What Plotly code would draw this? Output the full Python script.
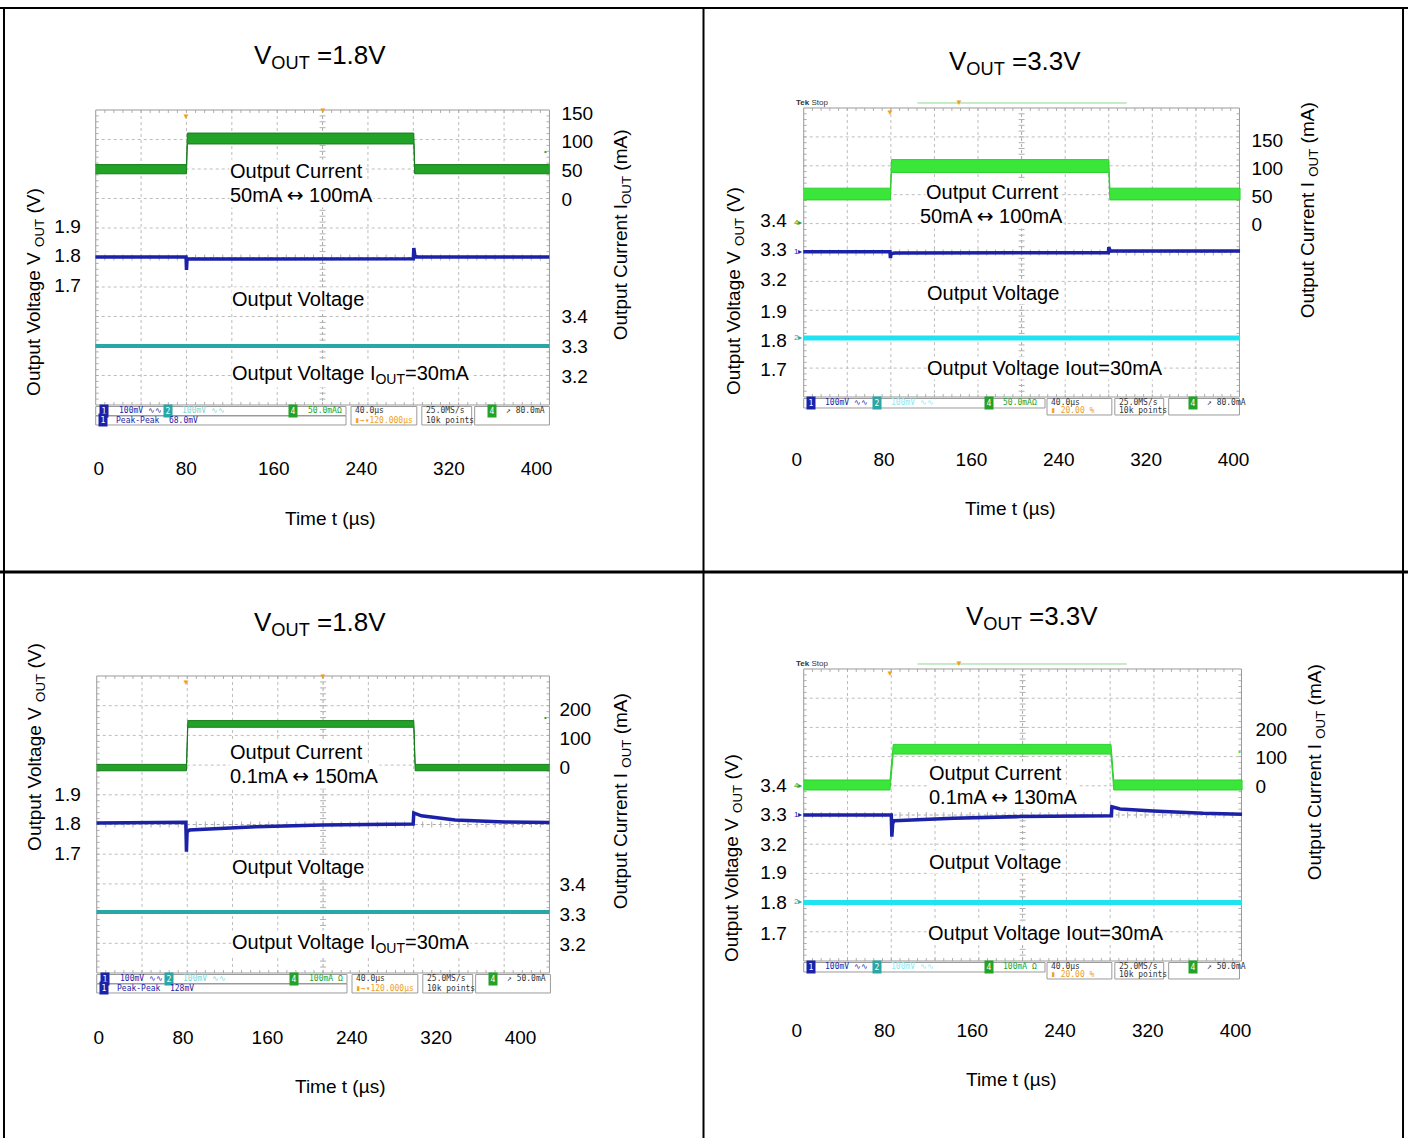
import plotly.graph_objects as go

W, H = 1412, 1138
# The photograph maps page row y to picture row 7 + 0.99385*y; rows are
# pre-compensated so that every element lands on its reference pixel row.
YOFF = 7
YSCALE = 0.99385
FONT = "Liberation Sans, Arial, Helvetica, sans-serif"
MONO = "DejaVu Sans Mono, monospace"
ARROW = '<span style="font-family:DejaVu Sans">\u2194</span>'

# ------------------------------------------------------------------ data
TIME_TICKS = [0, 80, 160, 240, 320, 400]
TIME_TEXT = ["0", "80", "160", "240", "320", "400"]
V18_TICKS = [1.9, 1.8, 1.7]
V18_TEXT = ["1.9", "1.8", "1.7"]
V33_TICKS = [3.4, 3.3, 3.2]
V33_TEXT = ["3.4", "3.3", "3.2"]
I_TICKS_A = [150, 100, 50, 0]
I_TEXT_A = ["150", "100", "50", "0"]
I_TICKS_B = [200, 100, 0]
I_TEXT_B = ["200", "100", "0"]

# Panel A: VOUT = 1.8 V, 50 mA <-> 100 mA (time in us, current in mA, voltage in V)
A_CUR_T = [-3, 80.2, 81.0, 287.9, 288.7, 412]
A_CUR_HI = [60, 60, 115, 115, 60, 60]
A_CUR_LO = [44, 44, 96, 96, 44, 44]
A_VB_T = [-3, 79.8, 80.2, 80.7, 83, 287.5, 287.9, 289, 292, 412]
A_VB_V = [1.795, 1.795, 1.751, 1.788, 1.788, 1.789, 1.825, 1.797, 1.795, 1.795]
A_VC_T = [-3, 412]
A_VC_V = [3.300, 3.300]

# Panel B: VOUT = 3.3 V, 50 mA <-> 100 mA
B_CUR_T = [6, 85.8, 86.8, 285.8, 286.8, 406]
B_CUR_HI = [64, 64, 115, 115, 64, 64]
B_CUR_LO = [43, 43, 92, 92, 43, 43]
B_VB_T = [6, 85.4, 85.8, 86.5, 90, 285.4, 285.8, 287, 406]
B_VB_V = [3.292, 3.292, 3.271, 3.286, 3.288, 3.289, 3.308, 3.296, 3.295]
B_VC_T = [6, 406]
B_VC_V = [1.807, 1.807]

# Panel C: VOUT = 1.8 V, 0.1 mA <-> 150 mA
C_CUR_T = [-2, 83.2, 84.5, 298.8, 300.1, 428]
C_CUR_HI = [9, 9, 160, 160, 9, 9]
C_CUR_LO = [-13, -13, 137, 137, -13, -13]
C_VB_T = [-2, 82.6, 83.2, 83.8, 86, 149, 212, 298.2, 298.8, 306, 338, 385, 428]
C_VB_V = [1.802, 1.804, 1.704, 1.772, 1.778, 1.789, 1.795, 1.798, 1.836, 1.826, 1.812, 1.805, 1.803]
C_VC_T = [-2, 428]
C_VC_V = [3.307, 3.307]

# Panel D: VOUT = 3.3 V, 0.1 mA <-> 130 mA
D_CUR_T = [6, 85.0, 88.0, 286.5, 289.0, 406]
D_CUR_HI = [21, 21, 146, 146, 21, 21]
D_CUR_LO = [-14, -14, 112, 112, -14, -14]
D_VB_T = [6, 86.2, 86.7, 87.5, 88.8, 143, 204, 286.9, 287.3, 294.8, 325, 370.6, 406]
D_VB_V = [3.298, 3.298, 3.225, 3.270, 3.279, 3.287, 3.293, 3.296, 3.326, 3.319, 3.312, 3.304, 3.301]
D_VC_T = [6, 406]
D_VC_V = [1.800, 1.800]

# ------------------------------------------------------------------ styles
BLUE = "#1c22a8"
GREEN_L = "#22a226"
GREEN_L_EDGE = "#187c1c"
GREEN_R = "#3ae63a"
GREEN_R_EDGE = "#2fcf2f"
CYAN_L = "#29a6a6"
CYAN_R = "#1fe3f0"
ORANGE = "#f0a020"
GRID = "#bdbdbd"

PANELS = [
    dict(screen=(96, 110, 551, 405), xcal=(99, 538), xpos=455, style="A",
         axes=[dict(key="blue", side="left", pos=81, cal=((1.9, 226), (1.7, 285)), ticks=V18_TICKS, text=V18_TEXT),
               dict(key="cur", side="right", pos=562, cal=((150, 113), (0, 199)), ticks=I_TICKS_A, text=I_TEXT_A),
               dict(key="cyan", side="right", pos=562, cal=((3.4, 316), (3.2, 376)), ticks=V33_TICKS, text=V33_TEXT)],
         cur=(A_CUR_T, A_CUR_HI, A_CUR_LO), blue=(A_VB_T, A_VB_V), cyan=(A_VC_T, A_VC_V),
         green=GREEN_L, gedge=GREEN_L_EDGE, cyanc=CYAN_L, cyanw=4,
         title=("V<sub>OUT</sub> =1.8V", 321, 57),
         labels=[("Output Current", 230, 171), ("50mA " + ARROW + " 100mA", 230, 195),
                 ("Output Voltage", 232, 299), ("Output Voltage I<sub>OUT</sub>=30mA", 232, 375)],
         ytl=("Output Voltage V <sub>OUT</sub> (V)", 35, 292),
         ytr=("Output Current I<sub>OUT</sub> (mA)", 624, 235),
         xt=("Time t (\u00b5s)", 331, 519),
         st_ch4="50.0mA\u03a9", st_pp="68.0mV", st_trig="80.0mA"),
    dict(screen=(806, 108, 1243, 397), xcal=(799, 1237), xpos=446, style="B",
         axes=[dict(key="blue", side="left", pos=789, cal=((3.4, 220), (3.2, 279)), ticks=V33_TICKS, text=V33_TEXT),
               dict(key="cyan", side="left", pos=789, cal=((1.9, 311), (1.7, 369)), ticks=V18_TICKS, text=V18_TEXT),
               dict(key="cur", side="right", pos=1254, cal=((150, 140), (0, 224)), ticks=I_TICKS_A, text=I_TEXT_A)],
         cur=(B_CUR_T, B_CUR_HI, B_CUR_LO), blue=(B_VB_T, B_VB_V), cyan=(B_VC_T, B_VC_V),
         green=GREEN_R, gedge=GREEN_R_EDGE, cyanc=CYAN_R, cyanw=5,
         title=("V<sub>OUT</sub> =3.3V", 1018, 63),
         labels=[("Output Current", 928, 192), ("50mA " + ARROW + " 100mA", 922, 216),
                 ("Output Voltage", 929, 293), ("Output Voltage Iout=30mA", 929, 368)],
         ytl=("Output Voltage V <sub>OUT</sub> (V)", 737, 291),
         ytr=("Output Current I <sub>OUT</sub> (mA)", 1313, 210),
         xt=("Time t (\u00b5s)", 1013, 509),
         st_ch4="50.0mA\u03a9", st_pp="", st_trig="80.0mA"),
    dict(screen=(97, 676, 551, 973), xcal=(99, 522), xpos=1024, style="A",
         axes=[dict(key="blue", side="left", pos=81, cal=((1.9, 794), (1.7, 853)), ticks=V18_TICKS, text=V18_TEXT),
               dict(key="cur", side="right", pos=560, cal=((200, 709), (0, 767)), ticks=I_TICKS_B, text=I_TEXT_B),
               dict(key="cyan", side="right", pos=560, cal=((3.4, 884), (3.2, 944)), ticks=V33_TICKS, text=V33_TEXT)],
         cur=(C_CUR_T, C_CUR_HI, C_CUR_LO), blue=(C_VB_T, C_VB_V), cyan=(C_VC_T, C_VC_V),
         green=GREEN_L, gedge=GREEN_L_EDGE, cyanc=CYAN_L, cyanw=4,
         title=("V<sub>OUT</sub> =1.8V", 321, 624),
         labels=[("Output Current", 230, 752), ("0.1mA " + ARROW + " 150mA", 230, 776),
                 ("Output Voltage", 232, 867), ("Output Voltage I<sub>OUT</sub>=30mA", 232, 944)],
         ytl=("Output Voltage V <sub>OUT</sub> (V)", 36, 747),
         ytr=("Output Current I <sub>OUT</sub> (mA)", 624, 801),
         xt=("Time t (\u00b5s)", 341, 1087),
         st_ch4="100mA \u03a9", st_pp="128mV", st_trig="50.0mA"),
    dict(screen=(806, 669, 1245, 961), xcal=(799, 1239), xpos=1017, style="B",
         axes=[dict(key="blue", side="left", pos=789, cal=((3.4, 785), (3.2, 844)), ticks=V33_TICKS, text=V33_TEXT),
               dict(key="cyan", side="left", pos=789, cal=((1.9, 872), (1.7, 933)), ticks=V18_TICKS, text=V18_TEXT),
               dict(key="cur", side="right", pos=1258, cal=((200, 729), (0, 786)), ticks=I_TICKS_B, text=I_TEXT_B)],
         cur=(D_CUR_T, D_CUR_HI, D_CUR_LO), blue=(D_VB_T, D_VB_V), cyan=(D_VC_T, D_VC_V),
         green=GREEN_R, gedge=GREEN_R_EDGE, cyanc=CYAN_R, cyanw=5,
         title=("V<sub>OUT</sub> =3.3V", 1035, 618),
         labels=[("Output Current", 931, 773), ("0.1mA " + ARROW + " 130mA", 931, 797),
                 ("Output Voltage", 931, 862), ("Output Voltage Iout=30mA", 930, 933)],
         ytl=("Output Voltage V <sub>OUT</sub> (V)", 735, 858),
         ytr=("Output Current I <sub>OUT</sub> (mA)", 1320, 772),
         xt=("Time t (\u00b5s)", 1014, 1080),
         st_ch4="100mA \u03a9", st_pp="", st_trig="50.0mA"),
]


def X(p):
    return p / W


def Y(p):
    return 1 - ((p - YOFF) / YSCALE) / H


def val_at(cal, p):
    (v0, p0), (v1, p1) = cal
    s = (p1 - p0) / (v1 - v0)
    return v0 + (p - p0) / s


fig = go.Figure()
layout = {}
shapes = []
ann = []


def text(x, y, s, size=20, xanchor="left", color="black", angle=0, bg=None, family=FONT,
         yanchor="middle", pad=0):
    d = dict(x=X(x), y=Y(y), xref="paper", yref="paper", text=s, showarrow=False,
             xanchor=xanchor, yanchor=yanchor, textangle=angle,
             font=dict(family=family, size=size, color=color), borderpad=pad)
    if bg:
        d["bgcolor"] = bg
    ann.append(d)


def seg_path(segs):
    return "".join(f"M{X(a):.5f},{Y(b):.5f}L{X(c):.5f},{Y(d):.5f}" for a, b, c, d in segs)


def status_bar(P):
    sx0, sy0, sx1, sy1 = P["screen"]
    b = sy1
    g = GREEN_L
    fs = 8
    if P["style"] == "A":
        boxes = [(0, 1.5, 251, 10.5), (0, 11, 251, 20), (256, 1.5, 322, 20), (327, 1.5, 377, 20), (380, 1.5, 455, 20)]
        r1, r2 = 6, 15.5
        items = [(3, r1, "1", "pill", BLUE), (22, r1, "100mV \u223f\u223f", "t", BLUE),
                 (67, r1, "2", "pill", CYAN_L), (86, r1, "100mV \u223f\u223f", "t", "#7fd6d6"),
                 (193, r1, "4", "pill", g), (212, r1, P["st_ch4"], "t", g),
                 (2, r2, "1", "pill", BLUE), (19, r2, "Peak-Peak  " + P["st_pp"], "t", BLUE),
                 (259, r1, "40.0\u00b5s", "t", "#333333"), (259, r2, "\u25ae\u2192\u25be120.000\u00b5s", "t", ORANGE),
                 (330, r1, "25.0MS/s", "t", "#333333"), (330, r2, "10k points", "t", "#333333"),
                 (392, r1, "4", "pill", g), (410, r1, "\u2197 " + P["st_trig"], "t", "#333333")]
    else:
        boxes = [(0, 1.5, 242, 11), (244, 1.5, 309, 18), (312, 1.5, 361, 18), (366, 1.5, 437, 18)]
        r1, r2 = 6, 14
        items = [(2, r1, "1", "pill", BLUE), (20, r1, "100mV \u223f\u223f", "t", BLUE),
                 (68, r1, "2", "pill", CYAN_L), (87, r1, "100mV \u223f\u223f", "t", "#8fe8f0"),
                 (181, r1, "4", "pill", g), (199, r1, P["st_ch4"], "t", g),
                 (247, r1, "40.0\u00b5s", "t", "#333333"), (247, r2, "\u25ae 20.00 %", "t", ORANGE),
                 (315, r1, "25.0MS/s", "t", "#333333"), (315, r2, "10k points", "t", "#333333"),
                 (385, r1, "4", "pill", g), (403, r1, "\u2197 " + P["st_trig"], "t", "#333333")]
    for (a, c, d, e) in boxes:
        shapes.append(dict(type="rect", xref="paper", yref="paper", x0=X(sx0 + a), x1=X(sx0 + d),
                           y0=Y(b + e), y1=Y(b + c), line=dict(color="#9a9a9a", width=1)))
    for (dx, dy, s, kind, col) in items:
        if kind == "pill":
            text(sx0 + dx, b + dy, s, size=fs, color="white", bg=col, family=MONO, pad=1.5)
        else:
            text(sx0 + dx, b + dy, s, size=fs, color=col, family=MONO)


for k, P in enumerate(PANELS):
    sx0, sy0, sx1, sy1 = P["screen"]
    xn = k + 1
    xname = "xaxis" if xn == 1 else f"xaxis{xn}"
    xref = "x" if xn == 1 else f"x{xn}"
    xcal = ((0, P["xcal"][0]), (400, P["xcal"][1]))
    dx0 = min(sx0, P["xcal"][0] - 12)
    dx1 = max(sx1, P["xcal"][1] + 12)
    layout[xname] = dict(domain=[X(dx0), X(dx1)], range=[val_at(xcal, dx0), val_at(xcal, dx1)],
                         anchor="free", position=Y(P["xpos"]), tickmode="array",
                         tickvals=TIME_TICKS, ticktext=TIME_TEXT, showgrid=False, zeroline=False,
                         showline=False, ticks="", fixedrange=True,
                         tickfont=dict(family=FONT, size=19, color="black"))
    base = None
    refs = {}
    for j, ax in enumerate(P["axes"]):
        yn = 3 * k + j + 1
        yname = "yaxis" if yn == 1 else f"yaxis{yn}"
        yref = "y" if yn == 1 else f"y{yn}"
        d = dict(range=[val_at(ax["cal"], sy1), val_at(ax["cal"], sy0)], anchor="free",
                 position=X(ax["pos"]), side=ax["side"], tickmode="array", tickvals=ax["ticks"],
                 ticktext=ax["text"], showgrid=False, zeroline=False, showline=False, ticks="",
                 fixedrange=True, tickfont=dict(family=FONT, size=19, color="black"))
        if base is None:
            d["domain"] = [Y(sy1), Y(sy0)]
            base = yref
        else:
            d["overlaying"] = base
        layout[yname] = d
        refs[ax["key"]] = yref

    # traces
    T, HI, LO = P["cur"]
    fig.add_trace(go.Scatter(x=list(T) + list(T)[::-1], y=list(HI) + list(LO)[::-1], mode="lines",
                             fill="toself", fillcolor=P["green"], line=dict(color=P["gedge"], width=1),
                             xaxis=xref, yaxis=refs["cur"], showlegend=False, hoverinfo="skip"))
    fig.add_trace(go.Scatter(x=P["cyan"][0], y=P["cyan"][1], mode="lines",
                             line=dict(color=P["cyanc"], width=P["cyanw"]),
                             xaxis=xref, yaxis=refs["cyan"], showlegend=False, hoverinfo="skip"))
    fig.add_trace(go.Scatter(x=P["blue"][0], y=P["blue"][1], mode="lines",
                             line=dict(color=BLUE, width=3.5),
                             xaxis=xref, yaxis=refs["blue"], showlegend=False, hoverinfo="skip"))

    # graticule (10 x 10 divisions)
    gx = (sx1 - sx0) / 10
    gy = (sy1 - sy0) / 10
    cx = (sx0 + sx1) / 2
    cy = (sy0 + sy1) / 2
    gsegs = []
    for i in range(1, 10):
        if i != 5:
            gsegs.append((sx0 + i * gx, sy0, sx0 + i * gx, sy1))
            gsegs.append((sx0, sy0 + i * gy, sx1, sy0 + i * gy))
    shapes.append(dict(type="path", xref="paper", yref="paper", path=seg_path(gsegs),
                       line=dict(color=GRID, width=1, dash="dot"), layer="below"))
    csegs = [(cx, sy0, cx, sy1), (sx0, cy, sx1, cy)]
    shapes.append(dict(type="path", xref="paper", yref="paper", path=seg_path(csegs),
                       line=dict(color="#a8a8a8", width=1, dash="dot"), layer="below"))
    tsegs = []
    for i in range(1, 50):
        yy = sy0 + i * gy / 5
        xx = sx0 + i * gx / 5
        tsegs.append((cx - 3, yy, cx + 3, yy))
        tsegs.append((xx, cy - 3, xx, cy + 3))
        tsegs.append((xx, sy0, xx, sy0 + 3))
        tsegs.append((xx, sy1 - 3, xx, sy1))
        tsegs.append((sx0, yy, sx0 + 3, yy))
        tsegs.append((sx1 - 3, yy, sx1, yy))
    shapes.append(dict(type="path", xref="paper", yref="paper", path=seg_path(tsegs),
                       line=dict(color="#b0b0b0", width=1), layer="below"))
    shapes.append(dict(type="rect", xref="paper", yref="paper", x0=X(sx0), x1=X(sx1), y0=Y(sy1), y1=Y(sy0),
                       line=dict(color="#9a9a9a", width=1), layer="below"))

    status_bar(P)

    # scope decorations
    if P["style"] == "A":
        text(187, sy0 + 7, "\u25bc", size=8, xanchor="center", color=ORANGE)
        text(cx, sy0 + 1, "\u25bc", size=8, xanchor="center", color=ORANGE)
        text(sx1 - 4, sy0 + 42, "\u2022", size=8, xanchor="center", color=P["green"])
    else:
        text(sx0 - 9, sy0 - 5, "<b>Tek</b> Stop", size=8, color="#333333")
        shapes.append(dict(type="line", xref="paper", yref="paper", x0=X(920), x1=X(1130),
                           y0=Y(sy0 - 5), y1=Y(sy0 - 5), line=dict(color="#8fd88f", width=1)))
        text(962, sy0 - 5, "\u25bc", size=8, xanchor="center", color=ORANGE)
        text(893, sy0 + 5, "\u25bc", size=8, xanchor="center", color=ORANGE)
        text(sx1 - 2, sy0 + 83, "\u2022", size=8, xanchor="center", color=P["green"])

    # texts
    t, x, y = P["title"]
    text(x, y, t, size=26, xanchor="center")
    for s, x, y in P["labels"]:
        text(x, y, s, size=20, bg="white")
    s, x, y = P["ytl"]
    text(x, y, s, size=19, xanchor="center", angle=-90)
    s, x, y = P["ytr"]
    text(x, y, s, size=19, xanchor="center", angle=-90)
    s, x, y = P["xt"]
    text(x, y, s, size=19, xanchor="center")

# channel ground markers on the right-hand scope shots
for (y4, y1, y2) in [(223, 252, 338), (786, 815, 902)]:
    text(800, y4, "4\u25b8", size=8, xanchor="center", color=GREEN_L)
    text(800, y1, "1\u25b8", size=8, xanchor="center", color=BLUE)
    text(800, y2, "2\u25b8", size=8, xanchor="center", color=CYAN_L)

# table borders (the top rule sits on the figure's upper edge)
TOP = YOFF + 1
for (x0, y0, x1, y1, w) in [(0, TOP, W, TOP, 2), (4, TOP, 4, H, 2), (705.5, TOP, 705.5, H, 2),
                            (1407, TOP, 1407, H, 2), (0, 572, W, 572, 3)]:
    shapes.append(dict(type="line", xref="paper", yref="paper", x0=X(x0), x1=X(x1), y0=Y(y0), y1=Y(y1),
                       line=dict(color="black", width=w)))

fig.update_layout(**layout)
fig.update_layout(width=W, height=H, autosize=False, margin=dict(l=0, r=0, t=0, b=0, pad=0),
                  paper_bgcolor="white", plot_bgcolor="white", showlegend=False,
                  shapes=shapes, annotations=ann, font=dict(family=FONT, color="black"))

# pin the plot to the page's top-left corner (no body margin)
PIN = ("document.body.style.margin='0';"
       "var g=document.getElementById('{plot_id}');"
       "g.style.position='absolute';g.style.left='0px';g.style.top='0px';"
       "document.documentElement.style.overflow='hidden';")
fig.write_html("out.html", config={"displayModeBar": False}, post_script=PIN)
